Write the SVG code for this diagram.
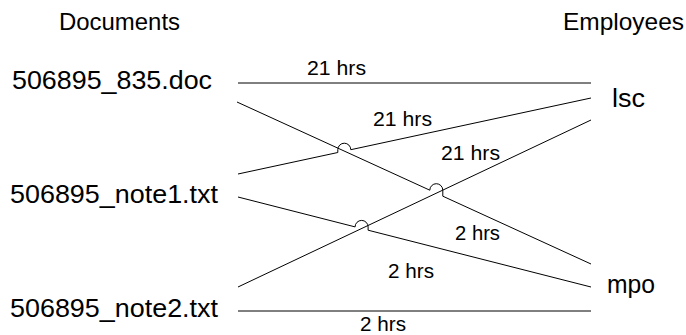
<svg xmlns="http://www.w3.org/2000/svg" width="686" height="335" viewBox="0 0 686 335">
  <style>
    .bg { fill: #ffffff; }
    .title { font-family: "Liberation Sans", Arial, sans-serif; font-size: 24px; fill: #000000; }
    .name { font-family: "Liberation Sans", Arial, sans-serif; font-size: 25px; fill: #000000; }
    .hrs { font-family: "Liberation Sans", Arial, sans-serif; font-size: 20px; fill: #000000; }
    .edge { fill: none; stroke: #000000; stroke-width: 1; }
  </style>
  <rect class="bg" x="0" y="0" width="686" height="335"/>

  <g id="header-documents"><text class="title" x="59" y="30" textLength="121" lengthAdjust="spacingAndGlyphs">Documents</text></g>
  <g id="header-employees"><text class="title" x="563" y="30" textLength="121" lengthAdjust="spacingAndGlyphs">Employees</text></g>

  <g id="doc-835"><text class="name" x="12" y="89" textLength="200" lengthAdjust="spacingAndGlyphs">506895_835.doc</text></g>
  <g id="doc-note1"><text class="name" x="10" y="203" textLength="208" lengthAdjust="spacingAndGlyphs">506895_note1.txt</text></g>
  <g id="doc-note2"><text class="name" x="10" y="317" textLength="208" lengthAdjust="spacingAndGlyphs">506895_note2.txt</text></g>
  <g id="emp-lsc"><text class="name" x="612" y="107" textLength="33" lengthAdjust="spacingAndGlyphs">lsc</text></g>
  <g id="emp-mpo"><text class="name" x="607" y="293" textLength="48" lengthAdjust="spacingAndGlyphs">mpo</text></g>

  <g id="connectors">
    <!-- 835.doc -> lsc -->
    <path class="edge" d="M238,83 L591,83"/>
    <!-- 835.doc -> mpo (jumps over note2 -> lsc) -->
    <path class="edge" d="M237,102 L429.8,190.2 A6.5,6.5 0 0 1 442.8,190.2 L442.8,196.2 L591,264"/>
    <!-- note1 -> lsc (jumps over 835.doc -> mpo) -->
    <path class="edge" d="M238,174 L337.8,152.5 L337.8,149.7 A6.5,6.5 0 0 1 350.8,149.7 L591,98"/>
    <!-- note1 -> mpo (jumps over note2 -> lsc) -->
    <path class="edge" d="M238,197 L355.1,226.9 A6.5,6.5 0 0 1 368.1,226.9 L368.1,230.2 L591,287"/>
    <!-- note2 -> lsc -->
    <path class="edge" d="M238,287 L591,120"/>
    <!-- note2 -> mpo -->
    <path class="edge" d="M238,311 L591,311"/>

    <text class="hrs" x="307" y="75" textLength="59" lengthAdjust="spacingAndGlyphs">21 hrs</text>
    <text class="hrs" x="373" y="126" textLength="59" lengthAdjust="spacingAndGlyphs">21 hrs</text>
    <text class="hrs" x="441" y="160" textLength="59" lengthAdjust="spacingAndGlyphs">21 hrs</text>
    <text class="hrs" x="455" y="240" textLength="45" lengthAdjust="spacingAndGlyphs">2 hrs</text>
    <text class="hrs" x="388" y="278" textLength="46" lengthAdjust="spacingAndGlyphs">2 hrs</text>
    <text class="hrs" x="360" y="331" textLength="46" lengthAdjust="spacingAndGlyphs">2 hrs</text>
  </g>
</svg>
